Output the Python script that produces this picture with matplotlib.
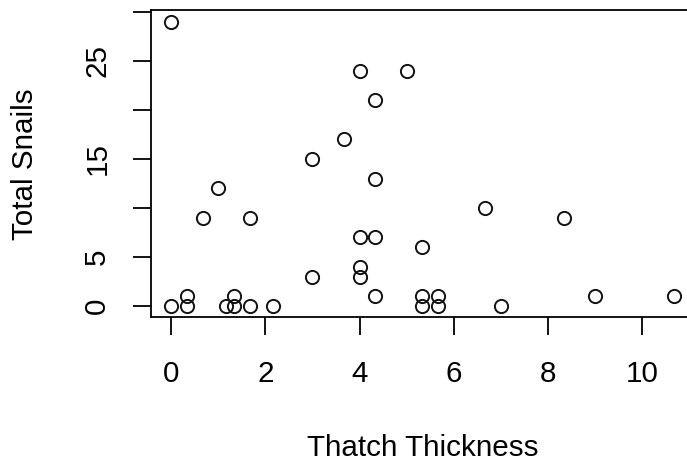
import numpy as np
import matplotlib.pyplot as plt

# thatch thickness vs total snails
thatch = [0, 4, 5, 4.33, 3.67, 3, 4.33, 1, 0.67, 1.67, 4, 4.33, 5.33, 4, 4, 3,
          4.33, 0, 0.33, 0.33, 1.17, 1.33, 1.33, 1.67, 2.17, 5.33, 5.33, 5.67,
          5.67, 6.67, 7, 8.33, 9, 10.67]
snails = [29, 24, 24, 21, 17, 15, 13, 12, 9, 9, 7, 7, 6, 4, 3, 3,
          1, 0, 1, 0, 0, 1, 0, 0, 0, 1, 0, 1,
          0, 10, 0, 9, 1, 1]

x_ticks = [0, 2, 4, 6, 8, 10]
x_labels = ['0', '2', '4', '6', '8', '10']
y_ticks = [0, 5, 10, 15, 20, 25, 30]
y_labels = ['0', '5', '', '15', '', '25', '']

plt.rcParams['font.family'] = ['Liberation Sans', 'DejaVu Sans']
fs = 21.3

fig = plt.figure(figsize=(6.87, 4.62), dpi=100)
ax = fig.add_axes([151/687, 0.313, 543/687, 0.6645])

x = np.array(thatch)
y = np.array(snails)
ax.plot(x, y, 'o', mfc='none', mec='#111111', ms=9.5, mew=1.4, clip_on=False)

# R style 4% padding
xpad = 0.04 * (x.max() - x.min())
ypad = 0.04 * (y.max() - y.min())
ax.set_xlim(x.min() - xpad, x.max() + xpad)
ax.set_ylim(y.min() - ypad, y.max() + ypad)

ax.set_xticks(x_ticks)
ax.set_xticklabels(x_labels)
ax.set_yticks(y_ticks)
ax.set_yticklabels(y_labels, rotation=90, va='center')

for s in ax.spines.values():
    s.set_linewidth(1.3)
ax.tick_params(direction='out', length=13, width=1.3, labelsize=fs)
ax.tick_params(axis='x', pad=18)
ax.tick_params(axis='y', pad=15.6)

ax.set_xlabel('Thatch Thickness', fontsize=fs, labelpad=32.5)
ax.set_ylabel('Total Snails', fontsize=fs, labelpad=32)

fig.savefig('out.png', dpi=100)
